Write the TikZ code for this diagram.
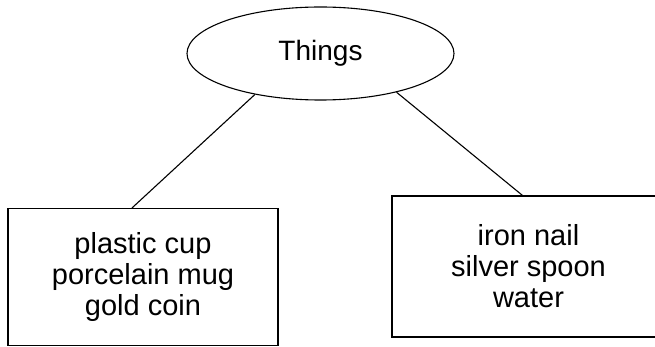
\documentclass[tikz,border=0pt]{standalone}
\usepackage{fontspec}
\setmainfont{Liberation Sans}
\usetikzlibrary{shapes.geometric,calc}
\tikzset{
  txt/.style={font=\fontsize{29}{31}\selectfont, align=center},
  itembox/.style={draw, line width=1.1pt, rectangle, inner sep=0pt, txt},
  topic/.style={draw, line width=1.1pt, ellipse, inner sep=0pt, font=\fontsize{28}{31}\selectfont},
  link/.style={line width=1.1pt}
}
\begin{document}
\begin{tikzpicture}[x=1pt, y=-1pt]
\useasboundingbox (0,0) rectangle (655,347);
\clip (0,0) rectangle (655,347);
\node[topic, minimum width=267pt, minimum height=93pt] (th) at (320.5,53.5) {Things};
\node[itembox, minimum width=270pt, minimum height=137pt] (lb) at (143,277)
  {plastic cup\\porcelain mug\\gold coin};
\node[itembox, minimum width=273pt, minimum height=141pt] (rb) at (528.5,266.5)
  {iron nail\\silver spoon\\water};
\draw[link] (th.212) -- ($(lb.north)+(-11pt,0)$);
\draw[link] (th.333) -- ($(rb.north)+(-6pt,0)$);
\end{tikzpicture}
\end{document}
